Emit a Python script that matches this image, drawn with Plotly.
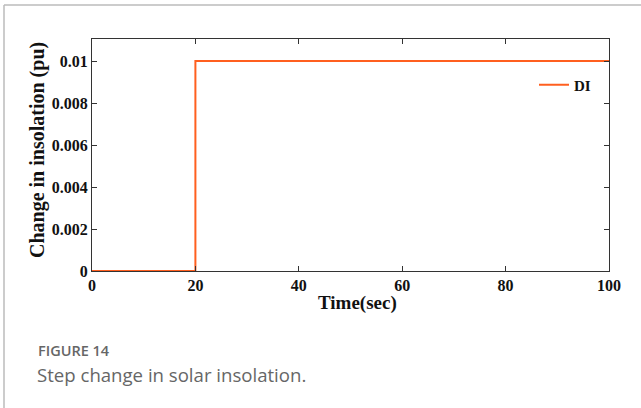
import plotly.graph_objects as go

time_sec = [0, 20, 20, 100]
di_values = [0, 0, 0.01, 0.01]
x_ticks = [0, 20, 40, 60, 80, 100]
y_ticks = [0, 0.002, 0.004, 0.006, 0.008, 0.01]
y_tick_labels = ["0", "0.002", "0.004", "0.006", "0.008", "0.01"]

W, H = 641, 408
L, R, T, B = 92, 609, 39, 271

def px(x):
    return (x - L) / (R - L)

def py(y):
    return (B - y) / (B - T)

fig = go.Figure()
fig.add_trace(go.Scatter(x=time_sec, y=di_values, mode="lines", name="DI",
                         line=dict(color="#FF5F1F", width=2)))

axis_font = dict(family="Liberation Serif", size=16, color="#111111", weight="bold")
fig.update_layout(
    width=W, height=H,
    margin=dict(l=L, r=W - R, t=T, b=H - B),
    paper_bgcolor="white", plot_bgcolor="white",
    showlegend=True,
    legend=dict(x=px(596), y=py(85), xanchor="right", yanchor="middle",
                bgcolor="rgba(0,0,0,0)",
                font=dict(family="Liberation Serif", size=15, color="#111", weight="bold"),
                itemwidth=30, tracegroupgap=0),
    xaxis=dict(range=[0, 100], tickvals=x_ticks, ticks="inside", ticklen=5, tickcolor="#333",
               showline=True, linecolor="#333", linewidth=1, mirror="ticks", showgrid=False,
               zeroline=False, tickfont=axis_font),
    yaxis=dict(range=[0, 0.01105], tickvals=y_ticks, ticktext=y_tick_labels, ticks="inside",
               ticklen=5, tickcolor="#333", showline=True, linecolor="#333", linewidth=1,
               mirror="ticks", showgrid=False, zeroline=False, tickfont=axis_font),
    annotations=[
        dict(text="<b>Time(sec)</b>", x=px(357), y=py(303), xref="paper", yref="paper",
             xanchor="center", yanchor="middle",
             showarrow=False, font=dict(family="Liberation Serif", size=19, color="#111")),
        dict(text="<b>Change in insolation (pu)</b>", x=px(37), y=py(150), xref="paper", yref="paper",
             xanchor="center", yanchor="middle",
             showarrow=False, textangle=-90, font=dict(family="Liberation Serif", size=20, color="#111")),
        dict(text="FIGURE 14", x=px(36), y=py(350), xref="paper", yref="paper",
             xanchor="left", yanchor="middle",
             showarrow=False, font=dict(family="Open Sans", size=14.5, color="#666", weight=600)),
        dict(text="Step change in solar insolation.", x=px(35), y=py(374), xref="paper", yref="paper",
             xanchor="left", yanchor="middle",
             showarrow=False, font=dict(family="Open Sans", size=18.6, color="#666")),
    ],
    shapes=[
        dict(type="line", xref="paper", yref="paper", x0=px(4), x1=px(641), y0=py(5), y1=py(5),
             line=dict(color="#BBBBBB", width=1.5)),
        dict(type="line", xref="paper", yref="paper", x0=px(4), x1=px(4), y0=py(5), y1=py(408),
             line=dict(color="#BBBBBB", width=1.5)),
    ],
)

fig.write_html("out.html", config={"displayModeBar": False},
               post_script="document.body.style.margin='0';")
